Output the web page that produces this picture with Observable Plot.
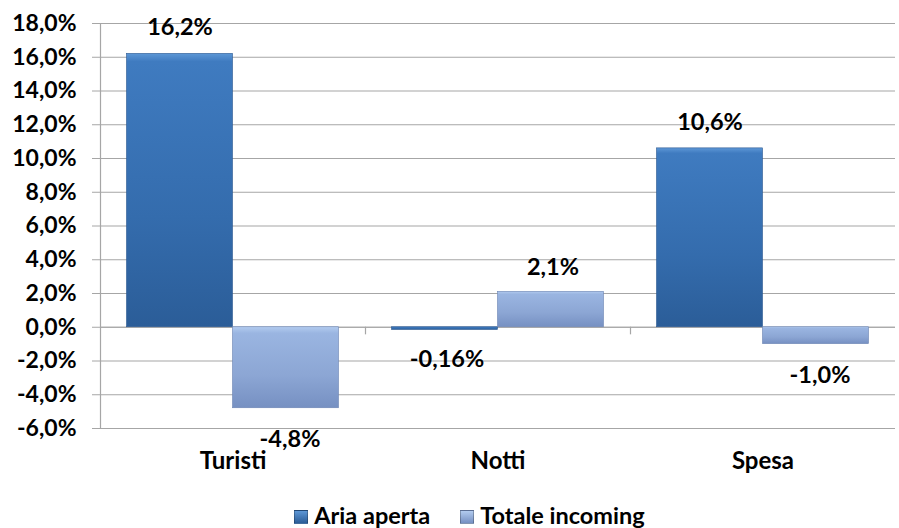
<!DOCTYPE html>
<html><head><meta charset="utf-8">
<script src="https://cdn.jsdelivr.net/npm/d3@7"></script>
<script src="https://cdn.jsdelivr.net/npm/@observablehq/plot@0.6"></script>
<style>
body{margin:0;background:#fff;font-family:Lato,"Open Sans",sans-serif;font-weight:bold;}
#chart svg{display:block;}
#legend{display:flex;justify-content:center;gap:30px;font-size:23.5px;line-height:26px;margin-top:12px;padding-left:40px;color:#000;}
#legend span.sw{display:inline-block;width:12px;height:12px;margin-right:6px;vertical-align:0px;border:1px solid rgba(0,0,0,0.25);}
</style></head>
<body><div id="chart"></div>
<div id="legend"></div>
<script>
const categories = ["Turisti", "Notti", "Spesa"];
const seriesNames = ["Aria aperta", "Totale incoming"];
const ariaAperta = [16.2, -0.16, 10.6];
const totaleIncoming = [-4.8, 2.1, -1.0];
const ariaLabels = ["16,2%", "-0,16%", "10,6%"];
const totaleLabels = ["-4,8%", "2,1%", "-1,0%"];
const yTicks = [-6, -4, -2, 0, 2, 4, 6, 8, 10, 12, 14, 16, 18];

const aria = categories.map((c, i) => ({cat: c, v: ariaAperta[i], label: ariaLabels[i]}));
const totale = categories.map((c, i) => ({cat: c, v: totaleIncoming[i], label: totaleLabels[i]}));
const pos = a => a.filter(d => d.v >= 0);
const neg = a => a.filter(d => d.v < 0);

const W = 899, H = 490;
const fmt = d => d.toFixed(1).replace(".", ",") + "%";
const grid = "#a6a6a6";
const txt = {x: "cat", y: "v", text: "label", fill: "#000", fontSize: 23.5, fontWeight: "bold"};

const chart = Plot.plot({
  width: W, height: H,
  marginLeft: 100, marginRight: 4, marginTop: 23, marginBottom: 62,
  style: {fontFamily: "Lato, 'Open Sans', sans-serif", fontWeight: "bold", fontSize: "23px", color: "#000", background: "#fff"},
  x: {domain: categories, padding: 0, axis: null, label: null},
  y: {domain: [-6, 18], axis: null, label: null},
  marks: [
    Plot.gridY(yTicks, {stroke: grid, strokeOpacity: 1, strokeWidth: 1.2}),
    Plot.ruleX(["Turisti"], {x: d => d, dx: -132.5, y1: -6, y2: 18, stroke: grid, strokeWidth: 1.2}),
    Plot.ruleY([0], {stroke: grid, strokeWidth: 1.2}),
    Plot.ruleX(["Turisti", "Notti"], {x: d => d, dx: 132.5, y1: 0, y2: -0.45, stroke: grid, strokeWidth: 1.2}),
    Plot.barY(aria, {x: "cat", y: "v", insetLeft: 26.5, insetRight: 132.5, fill: "url(#gA)", stroke: "#2a578f", strokeWidth: 0.6}),
    Plot.barY(totale, {x: "cat", y: "v", insetLeft: 132.5, insetRight: 26.5, fill: "url(#gT)", stroke: "#6c84b3", strokeWidth: 0.6}),
    Plot.text(pos(aria), {...txt, dx: -53, dy: -26}),
    Plot.text(neg(aria), {...txt, dx: -51, dy: 30}),
    Plot.text(pos(totale), {...txt, dx: 55, dy: -24}),
    Plot.text(neg(totale), {...txt, dx: 57, dy: 31}),
    Plot.axisY(yTicks, {tickSize: 8, tickPadding: 16, stroke: grid, strokeOpacity: 1, tickFormat: fmt, fill: "#000", fontSize: 23, label: null}),
    Plot.axisX({tickSize: 0, tickPadding: 23, fill: "#000", fontSize: 24, label: null})
  ]
});

const defs = d3.select(chart).insert("defs", ":first-child");
const gA = defs.append("linearGradient").attr("id", "gA").attr("x1", 0).attr("y1", 0).attr("x2", 0).attr("y2", 1);
gA.append("stop").attr("offset", "0%").attr("stop-color", "#5d97d6");
gA.append("stop").attr("offset", "3%").attr("stop-color", "#3f7bc0");
gA.append("stop").attr("offset", "60%").attr("stop-color", "#346cad");
gA.append("stop").attr("offset", "100%").attr("stop-color", "#2b5d98");
const gT = defs.append("linearGradient").attr("id", "gT").attr("x1", 0).attr("y1", 0).attr("x2", 0).attr("y2", 1);
gT.append("stop").attr("offset", "0%").attr("stop-color", "#b2cbef");
gT.append("stop").attr("offset", "8%").attr("stop-color", "#9ab5e1");
gT.append("stop").attr("offset", "60%").attr("stop-color", "#8ca6d4");
gT.append("stop").attr("offset", "100%").attr("stop-color", "#7690c2");

document.getElementById("chart").appendChild(chart);

const legend = document.getElementById("legend");
const swatches = ["linear-gradient(#5d97d6,#2b5d98)", "linear-gradient(#b2cbef,#7690c2)"];
seriesNames.forEach((s, i) => {
  const item = document.createElement("div");
  item.innerHTML = `<span class="sw" style="background:${swatches[i]}"></span>${s}`;
  legend.appendChild(item);
});
</script>
</body></html>
